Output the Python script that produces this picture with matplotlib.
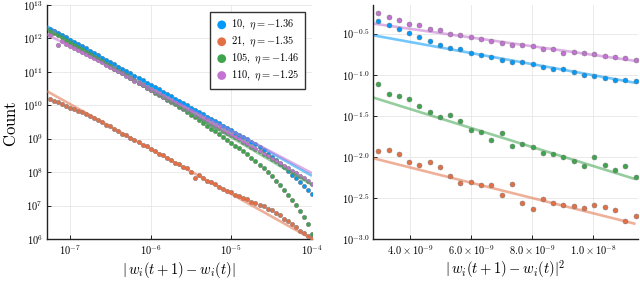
import numpy as np
import matplotlib
matplotlib.use("Agg")
import matplotlib.pyplot as plt

plt.rcParams['mathtext.fontset'] = 'cm'
plt.rcParams['font.family'] = 'serif'

# ---- left panel: histogram of |w_i(t+1) - w_i(t)| (log10 values)
log_dw = [-7.25, -7.20, -7.15, -7.10, -7.05, -7.00, -6.95, -6.90, -6.85, -6.80,
          -6.75, -6.70, -6.65, -6.60, -6.55, -6.50, -6.45, -6.40, -6.35, -6.30,
          -6.25, -6.20, -6.15, -6.10, -6.05, -6.00, -5.95, -5.90, -5.85, -5.80,
          -5.75, -5.70, -5.65, -5.60, -5.55, -5.50, -5.45, -5.40, -5.35, -5.30,
          -5.25, -5.20, -5.15, -5.10, -5.05, -5.00, -4.95, -4.90, -4.85, -4.80,
          -4.75, -4.70, -4.65, -4.60, -4.55, -4.50, -4.45, -4.40, -4.35, -4.30,
          -4.25, -4.20, -4.15, -4.10, -4.05, -4.00]

cnt_10 = [12.28, 12.23, 12.16, 12.10, 12.03, 11.96, 11.90, 11.83, 11.76, 11.70,
          11.62, 11.56, 11.49, 11.42, 11.36, 11.28, 11.22, 11.15, 11.08, 11.02,
          10.95, 10.88, 10.81, 10.75, 10.68, 10.61, 10.54, 10.48, 10.41, 10.34,
          10.27, 10.20, 10.14, 10.07, 10.00, 9.93, 9.86, 9.80, 9.73, 9.66,
          9.59, 9.52, 9.46, 9.39, 9.32, 9.25, 9.18, 9.12, 9.05, 8.98,
          8.90, 8.83, 8.74, 8.65, 8.55, 8.45, 8.36, 8.25, 8.14, 8.03,
          7.92, 7.82, 7.71, 7.59, 7.47, 7.35]
cnt_21 = [10.19, 10.14, 10.09, 10.03, 9.98, 9.93, 9.88, 9.83, 9.79, 9.73,
          9.67, 9.61, 9.55, 9.51, 9.42, 9.37, 9.28, 9.24, 9.15, 9.11,
          9.01, 8.97, 8.90, 8.81, 8.77, 8.68, 8.63, 8.54, 8.50, 8.41,
          8.37, 8.28, 8.23, 8.14, 8.11, 8.01, 7.81, 7.90, 7.83, 7.73,
          7.69, 7.63, 7.56, 7.51, 7.44, 7.40, 7.33, 7.30, 7.22, 7.20,
          7.12, 7.09, 7.01, 6.98, 6.90, 6.86, 6.78, 6.72, 6.61, 6.54,
          6.44, 6.35, 6.25, 6.18, 6.10, 6.02]
cnt_105 = [12.22, 12.16, 12.09, 12.03, 11.95, 11.88, 11.81, 11.73, 11.67, 11.59,
           11.53, 11.45, 11.39, 11.31, 11.24, 11.17, 11.09, 11.03, 10.95, 10.89,
           10.81, 10.75, 10.67, 10.61, 10.53, 10.46, 10.38, 10.32, 10.24, 10.17,
           10.10, 10.03, 9.96, 9.88, 9.81, 9.72, 9.64, 9.55, 9.47, 9.38,
           9.30, 9.22, 9.13, 9.04, 8.96, 8.88, 8.79, 8.71, 8.62, 8.53,
           8.43, 8.33, 8.22, 8.11, 8.00, 7.87, 7.74, 7.61, 7.47, 7.33,
           7.18, 7.01, 6.84, 6.66, 6.45, 6.16]
cnt_110 = [12.09, 12.21, 11.79, 11.91, 11.82, 11.76, 11.71, 11.66, 11.60, 11.54,
           11.47, 11.41, 11.34, 11.28, 11.21, 11.15, 11.07, 11.01, 10.95, 10.87,
           10.81, 10.73, 10.67, 10.61, 10.53, 10.47, 10.40, 10.34, 10.26, 10.20,
           10.13, 10.06, 10.00, 9.92, 9.86, 9.79, 9.72, 9.66, 9.58, 9.52,
           9.45, 9.38, 9.32, 9.24, 9.18, 9.11, 9.04, 8.98, 8.90, 8.84,
           8.76, 8.70, 8.63, 8.55, 8.48, 8.40, 8.34, 8.26, 8.19, 8.11,
           8.03, 7.96, 7.89, 7.81, 7.73, 7.65]

# power-law fits: (log10 x, log10 y) at both ends
fit_x = [-7.285, -4.0]
fit_10 = [12.36, 7.89]
fit_21 = [10.42, 6.00]
fit_105 = [12.29, 7.62]
fit_110 = [12.12, 7.97]

labels = [r"$10,\ \eta = -1.36$", r"$21,\ \eta = -1.35$",
          r"$105,\ \eta = -1.46$", r"$110,\ \eta = -1.25$"]

# ---- right panel: squared differences (log10 values)
dw2 = [2.96, 3.30, 3.63, 3.97, 4.31, 4.64, 4.98, 5.32, 5.65, 5.99, 6.33, 6.66, 7.00,
       7.34, 7.68, 8.01, 8.35, 8.69, 9.02, 9.36, 9.70, 10.03, 10.37, 10.71, 11.04, 11.38]
r_10 = [-0.349, -0.392, -0.445, -0.496, -0.541, -0.589, -0.637, -0.680, -0.692, -0.740,
        -0.756, -0.787, -0.816, -0.847, -0.844, -0.871, -0.907, -0.928, -0.936, -0.963,
        -0.999, -1.011, -1.044, -1.059, -1.059, -1.075]
r_21 = [-1.930, -1.922, -1.969, -2.065, -2.095, -2.065, -2.125, -2.239, -2.320, -2.311,
        -2.341, -2.347, -2.460, -2.325, -2.556, -2.640, -2.517, -2.560, -2.584, -2.598,
        -2.628, -2.592, -2.616, -2.652, -2.784, -2.724]
r_105 = [-1.116, -1.231, -1.254, -1.299, -1.383, -1.454, -1.518, -1.494, -1.559, -1.678,
         -1.698, -1.790, -1.714, -1.870, -1.846, -1.874, -1.954, -1.966, -2.005, -2.045,
         -2.117, -1.997, -2.105, -2.157, -2.117, -2.249]
r_110 = [-0.249, -0.296, -0.337, -0.377, -0.397, -0.440, -0.457, -0.505, -0.520, -0.536,
         -0.565, -0.589, -0.616, -0.637, -0.637, -0.649, -0.684, -0.692, -0.732, -0.728,
         -0.740, -0.744, -0.768, -0.780, -0.796, -0.823]

rfit_x = [2.80, 11.38]
rfit_10 = [-0.520, -1.099]
rfit_21 = [-2.017, -2.816]
rfit_105 = [-1.278, -2.272]
rfit_110 = [-0.377, -0.832]

colors = ['#009afa', '#e36f47', '#3ea44e', '#c371d2']

fig = plt.figure(figsize=(6.4, 2.82), dpi=100)
ax1 = fig.add_axes([0.0734, 0.1525, 0.414, 0.830])
ax2 = fig.add_axes([0.5833, 0.1525, 0.4136, 0.830])

xs = 10.0 ** np.array(log_dw)
fx = 10.0 ** np.array(fit_x)
for cnt, c, lab in zip([cnt_10, cnt_21, cnt_105, cnt_110], colors, labels):
    ax1.scatter(xs, 10.0 ** np.array(cnt), s=10, color=c, edgecolors='#7a7a7a',
                linewidths=0.35, zorder=3, label=lab)
for fit, c in zip([fit_10, fit_21, fit_105, fit_110], colors):
    ax1.plot(fx, 10.0 ** np.array(fit), color=c, lw=1.9, alpha=0.55, zorder=4,
             solid_capstyle='butt')

ax1.set_xscale('log')
ax1.set_yscale('log')
ax1.set_xlim(10 ** -7.285, 1e-4)
ax1.set_ylim(1e6, 1e13)
ax1.set_xticks([1e-7, 1e-6, 1e-5, 1e-4])
ax1.set_xticklabels([r"$10^{-7}$", r"$10^{-6}$", r"$10^{-5}$", r"$10^{-4}$"])
yt = [6, 7, 8, 9, 10, 11, 12, 13]
ax1.set_yticks([10.0 ** e for e in yt])
ax1.set_yticklabels([r"$10^{%d}$" % e for e in yt])
ax1.minorticks_off()
fig.text(0.279, 0.030, r"$|\,w_i(t+1) - w_i(t)|$", fontsize=10.5,
         ha='center', va='baseline')
fig.text(0.018, 0.56, r"$\mathrm{Count}$", rotation=90, fontsize=12,
         ha='center', va='center')

leg = ax1.legend(loc='upper right', fontsize=7.5, frameon=True, fancybox=False,
                 edgecolor='#333333', framealpha=1, markerscale=2.0,
                 handletextpad=0.3, borderpad=0.6, labelspacing=0.25,
                 borderaxespad=0.65, handlelength=1.1)
leg.get_frame().set_linewidth(1.0)
for h in leg.legend_handles:
    h.set_edgecolor('none')

rx = np.array(dw2) * 1e-9
rfx = np.array(rfit_x) * 1e-9
for r, fit, c in zip([r_10, r_21, r_105, r_110],
                     [rfit_10, rfit_21, rfit_105, rfit_110], colors):
    ax2.plot(rfx, 10.0 ** np.array(fit), color=c, lw=1.9, alpha=0.55, zorder=2,
             solid_capstyle='butt')
    ax2.scatter(rx, 10.0 ** np.array(r), s=13, color=c, edgecolors='#7a7a7a',
                linewidths=0.35, zorder=3)

ax2.set_yscale('log')
ax2.set_xlim(2.80e-9, 1.146e-8)
ax2.set_ylim(1e-3, 10 ** -0.15)
rxt = [4.0, 6.0, 8.0, 10.0]
ax2.set_xticks([v * 1e-9 for v in rxt])
ax2.set_xticklabels([r"$4.0\times10^{-9}$", r"$6.0\times10^{-9}$",
                     r"$8.0\times10^{-9}$", r"$1.0\times10^{-8}$"])
ryt = [-3.0, -2.5, -2.0, -1.5, -1.0, -0.5]
ax2.set_yticks([10.0 ** e for e in ryt])
ax2.set_yticklabels([r"$10^{%.1f}$" % e for e in ryt])
ax2.minorticks_off()
fig.text(0.790, 0.030, r"$|\,w_i(t+1) - w_i(t)|^2$", fontsize=10.5,
         ha='center', va='baseline')

for ax in (ax1, ax2):
    ax.grid(True, color='#e6e6e6', lw=0.6)
    ax.set_axisbelow(True)
    for s in ('top', 'right'):
        ax.spines[s].set_visible(False)
    for s in ('left', 'bottom'):
        ax.spines[s].set_linewidth(1.0)
        ax.spines[s].set_color('#222222')
    ax.tick_params(direction='in', length=3, width=0.6, labelsize=7.5, pad=3)

fig.savefig('out.png', dpi=100)
